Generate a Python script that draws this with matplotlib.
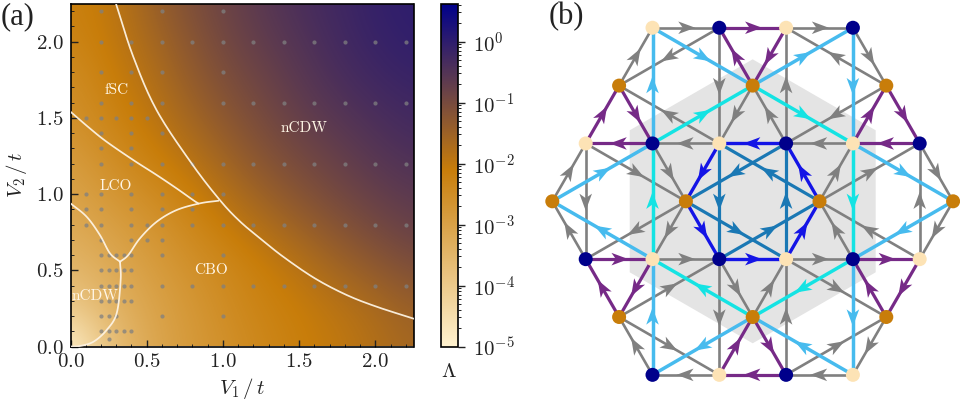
import numpy as np
import matplotlib
matplotlib.use("Agg")
import matplotlib.pyplot as plt
from matplotlib.colors import LinearSegmentedColormap, LogNorm, Normalize
from matplotlib.cm import ScalarMappable
from matplotlib.patches import Polygon, RegularPolygon, Circle
from matplotlib.ticker import LogLocator, MultipleLocator, NullFormatter

plt.rcParams["font.family"] = ["cmr10", "DejaVu Serif"]
plt.rcParams["mathtext.fontset"] = "cm"
plt.rcParams["axes.formatter.use_mathtext"] = True
plt.rcParams["axes.unicode_minus"] = False

FIG_W, FIG_H = 960, 401

# ---- panel (a): phase diagram -------------------------------------------
V1_GRID = [0, 0.25, 0.5, 0.75, 1.0, 1.25, 1.5, 1.75, 2.0, 2.25]
V2_GRID = [0, 0.25, 0.5, 0.75, 1.0, 1.25, 1.5, 1.75, 2.0, 2.25]
# log10 of the order parameter; one row per V2, bottom row first
LOG_LAMBDA = [
    [-5.00, -3.80, -3.20, -2.85, -2.60, -2.35, -2.15, -2.00, -1.80, -1.60],
    [-4.00, -3.50, -3.10, -2.80, -2.50, -2.25, -2.10, -1.90, -1.70, -1.45],
    [-3.55, -3.25, -2.95, -2.65, -2.40, -2.15, -1.90, -1.60, -1.35, -1.10],
    [-3.25, -3.00, -2.75, -2.45, -2.15, -1.85, -1.55, -1.25, -1.00, -0.80],
    [-3.05, -2.75, -2.50, -2.20, -1.85, -1.50, -1.20, -0.95, -0.75, -0.60],
    [-2.85, -2.50, -2.20, -1.90, -1.55, -1.20, -0.95, -0.75, -0.55, -0.42],
    [-2.60, -2.30, -2.00, -1.65, -1.30, -1.00, -0.75, -0.55, -0.40, -0.28],
    [-2.50, -2.15, -1.85, -1.45, -1.10, -0.85, -0.60, -0.40, -0.25, -0.15],
    [-2.30, -2.05, -1.70, -1.30, -0.95, -0.70, -0.50, -0.30, -0.15, -0.05],
    [-2.20, -2.00, -1.55, -1.15, -0.85, -0.60, -0.40, -0.25, -0.10, 0.00],
]
LAMBDA_MIN, LAMBDA_MAX = 1e-5, 4.2

# simulated parameter points, grouped by V2
SAMPLE_POINTS = {
    2.2: [0.2, 0.6, 1.0],
    2.0: [0.2, 0.4, 0.6, 0.8, 1.0, 1.2, 1.4, 1.6, 1.8, 2.0, 2.2],
    1.8: [0.2, 0.4, 0.6, 1.0],
    1.6: [0.2, 0.4, 0.6, 1.0, 1.2, 1.4, 1.6, 1.8, 2.0, 2.2],
    1.5: [0.1, 0.2, 0.3, 0.4, 0.5],
    1.4: [0.2, 0.4, 0.6],
    1.3: [0.2, 0.4],
    1.2: [0.2, 0.4, 0.6, 0.8, 1.0, 1.2, 1.4, 1.6, 1.8, 2.0, 2.2],
    1.0: [0.1, 0.2, 0.4, 0.6, 0.8, 1.0],
    0.9: [0.1, 0.2, 0.4, 0.6, 0.8],
    0.8: [0.1, 0.2, 0.4, 0.5, 0.6, 0.8, 1.0, 1.2, 1.4, 1.6, 1.8, 2.0, 2.2],
    0.7: [0.2, 0.4, 0.5, 0.6],
    0.6: [0.2, 0.25, 0.3, 0.35, 0.4, 0.6, 1.0],
    0.5: [0.2, 0.25, 0.3, 0.35, 0.4],
    0.4: [0.2, 0.25, 0.3, 0.35, 0.4, 0.6, 0.8, 1.0, 1.2, 1.4, 1.6, 1.8, 2.0, 2.2],
    0.3: [0.2, 0.25, 0.3, 0.35, 0.4],
    0.2: [0.2, 0.25, 0.3, 0.6, 1.0],
    0.1: [0.2, 0.25, 0.3, 0.35, 0.4],
    0.05: [0.25],
}

# phase boundaries as (V1, V2)
BOUNDARY_OUTER = [(0.298, 2.25), (0.412, 1.90), (0.565, 1.55), (0.795, 1.20), (0.98, 0.96),
                  (1.11, 0.822), (1.243, 0.71), (1.395, 0.589), (1.603, 0.447),
                  (1.811, 0.338), (2.008, 0.261), (2.25, 0.183)]
BOUNDARY_FSC_LCO = [(0.0, 1.54), (0.128, 1.43), (0.237, 1.343), (0.412, 1.223),
                    (0.565, 1.125), (0.696, 1.037), (0.805, 0.96), (0.838, 0.939)]
BOUNDARY_LCO_CBO = [(0.325, 0.556), (0.379, 0.60), (0.456, 0.71), (0.565, 0.818),
                    (0.696, 0.895), (0.849, 0.939), (0.969, 0.956)]
BOUNDARY_LCO_NCDW = [(0.0, 0.939), (0.106, 0.851), (0.193, 0.731), (0.259, 0.611), (0.325, 0.556)]
BOUNDARY_NCDW_CBO = [(0.325, 0.556), (0.329, 0.436), (0.303, 0.218), (0.237, 0.108),
                     (0.15, 0.031), (0.06, 0.003), (0.0, 0.0)]
BOUNDARIES = [BOUNDARY_OUTER, BOUNDARY_FSC_LCO, BOUNDARY_LCO_CBO, BOUNDARY_LCO_NCDW, BOUNDARY_NCDW_CBO]

PHASE_LABELS = [("fSC", 0.30, 1.68), ("LCO", 0.30, 1.05), ("nCDW", 0.16, 0.33),
                ("CBO", 0.92, 0.50), ("nCDW", 1.53, 1.43)]

# ---- panel (b): kagome bond pattern -------------------------------------
# Sites are (twice the x position in lattice constants, row index from the top).
CREAM_SITES = [(-3, 0), (1, 0), (-5, 2), (-1, 2), (3, 2), (-3, 4), (1, 4), (5, 4), (-1, 6), (3, 6)]
NAVY_SITES = [(-1, 0), (3, 0), (-3, 2), (1, 2), (5, 2), (-5, 4), (-1, 4), (3, 4), (-3, 6), (1, 6)]
ORANGE_SITES = [(-4, 1), (0, 1), (4, 1), (-6, 3), (-2, 3), (2, 3), (6, 3), (-4, 5), (0, 5), (4, 5)]

GRAY_BONDS = [
    ((-3, 0), (-1, 0)), ((1, 0), (3, 0)), ((-4, 1), (-3, 0)), ((3, 0), (4, 1)),
    ((0, 1), (-1, 2)), ((1, 2), (0, 1)), ((-1, 2), (-3, 2)), ((3, 2), (1, 2)),
    ((-6, 3), (-5, 2)), ((5, 2), (6, 3)), ((-3, 2), (-2, 3)), ((2, 3), (3, 2)),
    ((-5, 4), (-6, 3)), ((6, 3), (5, 4)), ((-2, 3), (-3, 4)), ((3, 4), (2, 3)),
    ((-3, 4), (-1, 4)), ((1, 4), (3, 4)), ((-1, 4), (0, 5)), ((0, 5), (1, 4)),
    ((-3, 6), (-4, 5)), ((4, 5), (3, 6)), ((-1, 6), (-3, 6)), ((3, 6), (1, 6)),
    ((-1, 0), (-4, 1)), ((4, 1), (1, 0)), ((-1, 0), (-1, 2)), ((1, 2), (1, 0)),
    ((-1, 2), (-4, 1)), ((4, 1), (1, 2)), ((-5, 2), (-5, 4)), ((5, 4), (5, 2)),
    ((-5, 2), (-2, 3)), ((-2, 3), (-5, 4)), ((2, 3), (5, 2)), ((5, 4), (2, 3)),
    ((-4, 5), (-1, 4)), ((-4, 5), (-1, 6)), ((-1, 4), (-1, 6)), ((1, 6), (1, 4)),
    ((1, 4), (4, 5)), ((1, 6), (4, 5)),
]
PURPLE_BONDS = [
    ((-1, 0), (1, 0)), ((0, 1), (-1, 0)), ((1, 0), (0, 1)),
    ((-5, 2), (-4, 1)), ((-4, 1), (-3, 2)), ((-3, 2), (-5, 2)),
    ((3, 2), (4, 1)), ((4, 1), (5, 2)), ((5, 2), (3, 2)),
    ((-5, 4), (-3, 4)), ((-3, 4), (-4, 5)), ((-4, 5), (-5, 4)),
    ((3, 4), (5, 4)), ((5, 4), (4, 5)), ((4, 5), (3, 4)),
    ((-1, 6), (0, 5)), ((0, 5), (1, 6)), ((1, 6), (-1, 6)),
]
BLUE_BONDS = [
    ((1, 2), (-1, 2)), ((2, 3), (1, 2)), ((1, 4), (2, 3)),
    ((-1, 4), (1, 4)), ((-2, 3), (-1, 4)), ((-1, 2), (-2, 3)),
]
STEEL_BONDS = [
    ((-1, 2), (-1, 4)), ((1, 4), (1, 2)), ((-2, 3), (1, 4)),
    ((-1, 4), (2, 3)), ((2, 3), (-1, 2)), ((1, 2), (-2, 3)),
]
SKY_BONDS = [
    ((-6, 3), (-3, 2)), ((-3, 2), (-3, 0)), ((-3, 0), (0, 1)), ((0, 1), (3, 0)),
    ((3, 0), (3, 2)), ((3, 2), (6, 3)), ((6, 3), (3, 4)), ((3, 4), (3, 6)),
    ((3, 6), (0, 5)), ((0, 5), (-3, 6)), ((-3, 6), (-3, 4)), ((-3, 4), (-6, 3)),
]
CYAN_BONDS = [
    ((-3, 2), (0, 1)), ((0, 1), (3, 2)), ((3, 2), (3, 4)),
    ((3, 4), (0, 5)), ((0, 5), (-3, 4)), ((-3, 4), (-3, 2)),
]

GRAY, PURPLE, BLUE, STEEL, SKY, CYAN = "#808080", "#762a87", "#1414e6", "#1a78b4", "#47bbee", "#14e3e3"
CREAM, NAVY, ORANGE = "#fde3b5", "#00008b", "#c87d0a"


def rect(x0, y0, x1, y1):
    """Figure fraction rectangle from pixel corners measured from the top left."""
    return [x0 / FIG_W, 1 - y1 / FIG_H, (x1 - x0) / FIG_W, (y1 - y0) / FIG_H]


def smooth_line(points, per_segment=12):
    """Catmull-Rom path through the given boundary points."""
    p = np.array(points, dtype=float)
    p = np.vstack([2 * p[0] - p[1], p, 2 * p[-1] - p[-2]])
    out = []
    s = np.linspace(0, 1, per_segment, endpoint=False)[:, None]
    for i in range(1, len(p) - 2):
        a, b, c, d = p[i - 1], p[i], p[i + 1], p[i + 2]
        out.append(0.5 * (2 * b + (c - a) * s + (2 * a - 5 * b + 4 * c - d) * s**2
                          + (3 * b - a - 3 * c + d) * s**3))
    out.append(p[-2][None, :])
    return np.vstack(out)


fig = plt.figure(figsize=(FIG_W / 100, FIG_H / 100), dpi=100)
INK = "#222222"

# colour scale is linear in log10(Lambda): cream -> orange -> navy
lo, hi = np.log10(LAMBDA_MIN), np.log10(LAMBDA_MAX)
orange_pos = (-2.1 - lo) / (hi - lo)
cmap = LinearSegmentedColormap.from_list(
    "lambda", [(0, "#fff2cf"), (orange_pos, "#c87d0a"), (1, "#00008b")], N=512)

ax = fig.add_axes(rect(70.5, 3.5, 413.5, 346.5))
half = 0.125
ax.imshow(np.array(LOG_LAMBDA), origin="lower", cmap=cmap, norm=Normalize(lo, hi),
          extent=(V1_GRID[0] - half, V1_GRID[-1] + half, V2_GRID[0] - half, V2_GRID[-1] + half),
          interpolation="bicubic", aspect="auto", zorder=0)

for v2, v1_values in SAMPLE_POINTS.items():
    ax.scatter(v1_values, [v2] * len(v1_values), s=9, color="#808080", alpha=0.75,
               linewidths=0, zorder=2, clip_on=True)
for boundary in BOUNDARIES:
    xy = smooth_line(boundary)
    ax.plot(xy[:, 0], xy[:, 1], color="#fdf3e3", lw=1.25, alpha=0.95, zorder=3)
for name, x, y in PHASE_LABELS:
    ax.text(x, y, name, color="#fff6e6", fontsize=11, ha="center", va="center", zorder=4)

ax.set_xlim(0, 2.25)
ax.set_ylim(0, 2.25)
ax.xaxis.set_major_locator(MultipleLocator(0.5))
ax.yaxis.set_major_locator(MultipleLocator(0.5))
ax.xaxis.set_minor_locator(MultipleLocator(0.1))
ax.yaxis.set_minor_locator(MultipleLocator(0.1))
ax.tick_params(which="major", direction="in", length=5, width=1, labelsize=15, colors=INK, pad=5)
ax.tick_params(which="minor", direction="in", length=2.5, width=0.7, colors=INK)
ax.set_xlabel(r"$V_1\,/\,t$", fontsize=15, labelpad=3, color=INK)
ax.set_ylabel(r"$V_2\,/\,t$", fontsize=15, labelpad=5, color=INK)
for spine in ax.spines.values():
    spine.set_linewidth(1.2)

cax = fig.add_axes(rect(440.5, 3.5, 458, 346.5))
cb = fig.colorbar(ScalarMappable(LogNorm(LAMBDA_MIN, LAMBDA_MAX), cmap), cax=cax)
cb.ax.yaxis.set_major_locator(LogLocator(base=10, numticks=10))
cb.ax.yaxis.set_minor_locator(LogLocator(base=10, subs=range(2, 10), numticks=12))
cb.ax.yaxis.set_minor_formatter(NullFormatter())
cb.ax.tick_params(which="major", length=5, width=1, labelsize=15, colors=INK, pad=6)
cb.ax.tick_params(which="minor", length=2.5, width=0.7, colors=INK)
cb.outline.set_linewidth(1.2)
fig.text(449 / FIG_W, 1 - 372 / FIG_H, r"$\Lambda$", fontsize=15, ha="center", va="center", color=INK)

fig.text(0.5 / FIG_W, 1 - 17 / FIG_H, "(a)", fontsize=22, family="Liberation Serif",
         ha="left", va="center", color=INK)
fig.text(549 / FIG_W, 1 - 17 / FIG_H, "(b)", fontsize=22, family="Liberation Serif",
         ha="left", va="center", color=INK)

# panel (b): one lattice constant spans 66.8 px, centred at pixel (752.7, 201.3)
UNIT = 66.8
CX, CY = 752.7, 201.3
bx = fig.add_axes(rect(530, 0, 960, 401))
bx.set_xlim((530 - CX) / UNIT, (960 - CX) / UNIT)
bx.set_ylim((CY - 401) / UNIT, CY / UNIT)
bx.axis("off")


def site_xy(site):
    return np.array([site[0] / 2, (3 - site[1]) * np.sqrt(3) / 2])


def draw_bond(start, end, color, width, z):
    p, q = site_xy(start), site_xy(end)
    bx.plot([p[0], q[0]], [p[1], q[1]], color=color, lw=width, solid_capstyle="butt", zorder=z)
    u = (q - p) / np.linalg.norm(q - p)
    n = np.array([-u[1], u[0]])
    mid = (p + q) / 2
    length, spread, notch = 17 / UNIT, 6.3 / UNIT, 4.5 / UNIT
    tip = mid + u * length * 0.55
    back = mid - u * length * 0.45
    bx.add_patch(Polygon([tip, back + n * spread, back + u * notch, back - n * spread],
                         closed=True, facecolor=color, edgecolor="none", zorder=z + 0.1))


bx.add_patch(RegularPolygon((0, 0), 6, radius=142 / UNIT, orientation=0,
                            facecolor="#e4e4e4", edgecolor="none", zorder=0))
for bonds, color, width, z in [(GRAY_BONDS, GRAY, 1.9, 1), (PURPLE_BONDS, PURPLE, 2.3, 2),
                               (STEEL_BONDS, STEEL, 2.3, 2), (BLUE_BONDS, BLUE, 2.4, 3),
                               (SKY_BONDS, SKY, 2.5, 3), (CYAN_BONDS, CYAN, 2.5, 3)]:
    for start, end in bonds:
        draw_bond(start, end, color, width, z)
for sites, color in [(CREAM_SITES, CREAM), (NAVY_SITES, NAVY), (ORANGE_SITES, ORANGE)]:
    for site in sites:
        bx.add_patch(Circle(site_xy(site), 7 / UNIT, facecolor=color, edgecolor="none", zorder=6))

fig.savefig("out.png", dpi=100)
